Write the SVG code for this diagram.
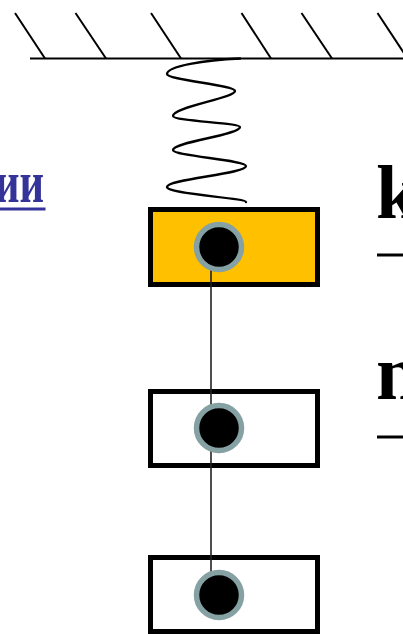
<svg xmlns="http://www.w3.org/2000/svg" width="403" height="634" viewBox="0 0 403 634">
<style>
.hatch{stroke:#000;stroke-width:2;fill:none;stroke-linecap:butt}
.spring{stroke:#000;stroke-width:2.4;fill:none;stroke-linecap:round}
.box{stroke:#000;stroke-width:5}
.dot{fill:#000;stroke:#86A1A3;stroke-width:5.5}
.conn{stroke:#222;stroke-width:1.6;fill:none}
.lbl{font-family:"Liberation Serif","Times New Roman",serif;font-weight:bold;fill:#000}
.ul{stroke:#000;stroke-width:3}
</style>
<rect width="403" height="634" fill="#fff"/>
<g id="ceiling">
<line class="hatch" x1="30" y1="58.5" x2="403" y2="58.5"/>
<line class="hatch" x1="15" y1="13" x2="45" y2="58.5"/>
<line class="hatch" x1="75.5" y1="13" x2="106" y2="58.5"/>
<line class="hatch" x1="151" y1="13" x2="181" y2="58.5"/>
<line class="hatch" x1="241.5" y1="13" x2="271" y2="58.5"/>
<line class="hatch" x1="301.5" y1="13" x2="332" y2="58.5"/>
<line class="hatch" x1="377.5" y1="13" x2="407.5" y2="58.5"/>
</g>
<g id="spring">
<path class="spring" d="M240,58.5 C205,60 167,66 167,74 C167,80 235,85 235,91 C235,98 173,107 173,116 C173,121 240,123 240,127 C240,135 173,142 173,150 C173,156 246,160 246,166 C246,174 167,179 167,187 C167,194 246,198 246,202"/>
</g>
<g id="label-left">
<text x="-5" y="202" font-family="Liberation Serif, Times New Roman, serif" font-weight="bold" font-size="59" fill="#333399" textLength="49" lengthAdjust="spacingAndGlyphs">ии</text>
<line x1="0" y1="209" x2="45.5" y2="209" stroke="#333399" stroke-width="3"/>
</g>
<g id="mass1">
<rect class="box" x="150.5" y="209.5" width="167" height="75" fill="#FFC000"/>
</g>
<g id="mass2">
<rect class="box" x="150.5" y="391.5" width="167" height="74" fill="#fff"/>
</g>
<g id="mass3">
<rect class="box" x="150.5" y="557.5" width="167" height="74" fill="#fff"/>
</g>
<g id="connectors">
<line class="conn" x1="211" y1="268" x2="211" y2="406"/>
<line class="conn" x1="211" y1="450" x2="211" y2="573"/>
</g>
<g id="dot1"><circle class="dot" cx="219" cy="247" r="22.5"/></g>
<g id="dot2"><circle class="dot" cx="219" cy="428" r="22.5"/></g>
<g id="dot3"><circle class="dot" cx="219" cy="595" r="22.5"/></g>
<g id="label-k">
<text class="lbl" x="376" y="218" font-size="76">k</text>
<line class="ul" x1="377" y1="255" x2="403" y2="255"/>
</g>
<g id="label-n">
<text class="lbl" x="376" y="399" font-size="78">n</text>
<line class="ul" x1="377" y1="437" x2="403" y2="437"/>
</g>
</svg>
